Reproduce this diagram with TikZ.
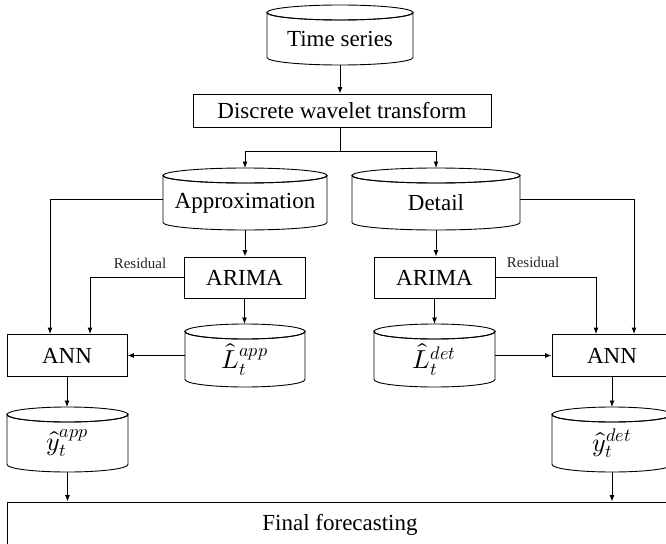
\documentclass[tikz,border=0pt]{standalone}
\usepackage{fontspec}
\usepackage{unicode-math}
\setmainfont{Liberation Serif}
\setmathfont{Latin Modern Math}
\usetikzlibrary{arrows.meta}

\newcommand\mycyl[7]{%
  \node[cylnode, minimum width=#4pt, minimum height=#5pt] (#1) at (#2,#3) {};
  \draw[cylline] ([yshift=-7.5pt]#1.north west)
     arc[start angle=180,end angle=360,x radius=#4pt/2,y radius=7.5pt]
     -- ([yshift=7.5pt]#1.south east)
     arc[start angle=0,end angle=-180,x radius=#4pt/2,y radius=7.5pt] -- cycle;
  \draw[cylline] ([yshift=-7.5pt]#1.north) ellipse[x radius=#4pt/2,y radius=7.5pt];
  \node[#7] (#1-t) at ([yshift=-4pt]#1.center) {#6};
}

\tikzset{
  txt/.style={font=\fontsize{23}{27}\selectfont, inner sep=0pt},
  mtxt/.style={font=\fontsize{26}{30}\selectfont, inner sep=0pt},
  cylnode/.style={inner sep=0pt, outer sep=0pt},
  cylline/.style={line width=0.9pt},
  box/.style={draw, line width=0.9pt, inner sep=2pt, font=\fontsize{23}{27}\selectfont},
  small/.style={font=\fontsize{15}{18}\selectfont, inner sep=0pt, text=black!85},
  arr/.style={line width=0.9pt, -{Latex[length=6.5pt,width=5pt]}},
  ln/.style={line width=0.9pt}
}

\begin{document}
\begin{tikzpicture}[x=1pt,y=-1pt]
\useasboundingbox (0,0) rectangle (666,543);
\clip (0,0) rectangle (666,543);

\mycyl{ts}{340}{35}{146}{60}{Time series}{txt}
\node[box, minimum width=298pt, minimum height=33pt] (dwt) at (342,110.5) {Discrete wavelet transform};

\mycyl{app}{245}{199}{164}{62}{Approximation}{txt}
\mycyl{det}{436}{199}{168}{62}{Detail}{txt}

\node[box, minimum width=121pt, minimum height=41pt] (arL) at (244.5,277.5) {ARIMA};
\node[box, minimum width=121pt, minimum height=41pt] (arR) at (434.5,277.5) {ARIMA};

\mycyl{lapp}{245}{355.5}{120}{63}{$\hat{L}_t^{app}$}{mtxt}
\mycyl{ldet}{434.5}{355.5}{121}{63}{$\hat{L}_t^{det}$}{mtxt}

\node[box, minimum width=120pt, minimum height=42pt] (annL) at (67,355.5) {ANN};
\node[box, minimum width=120pt, minimum height=42pt] (annR) at (612,355.5) {ANN};

\mycyl{yapp}{67.5}{439.5}{121}{65}{$\hat{y}_t^{app}$}{mtxt}
\mycyl{ydet}{612}{439.5}{120}{65}{$\hat{y}_t^{det}$}{mtxt}

\node[box, minimum width=666pt, minimum height=45pt] (fin) at (340,524.5) {Final forecasting};

\node[small] (resL) at (140,263) {Residual};
\node[small] (resR) at (533,262) {Residual};

% connectors
\draw[arr] (ts.south) -- (ts.south |- dwt.north);
\coordinate (sp) at (340,151);
\draw[ln] (sp |- dwt.south) -- (sp);
\draw[arr] (sp) -| (app.north);
\draw[arr] (sp) -| (det.north);

\draw[arr] (app.south) -- (app.south |- arL.north);
\draw[arr] (det.south) -- (det.south |- arR.north);
\draw[arr] (arL.south) -- (arL.south |- lapp.north);
\draw[arr] (arR.south) -- (arR.south |- ldet.north);

\draw[arr] (app.west) -| ([xshift=-17pt]annL.north);
\draw[arr] (arL.west) -| ([xshift=23pt]annL.north);
\draw[arr] (lapp.west) -- (annL.east);
\draw[arr] (annL.south) -- (annL.south |- yapp.north);
\draw[arr] (yapp.south) -- (yapp.south |- fin.north);

\draw[arr] (det.east) -| ([xshift=22pt]annR.north);
\draw[arr] (arR.east) -| ([xshift=-16pt]annR.north);
\draw[arr] (ldet.east) -- (annR.west);
\draw[arr] (annR.south) -- (annR.south |- ydet.north);
\draw[arr] (ydet.south) -- (ydet.south |- fin.north);
\end{tikzpicture}
\end{document}
